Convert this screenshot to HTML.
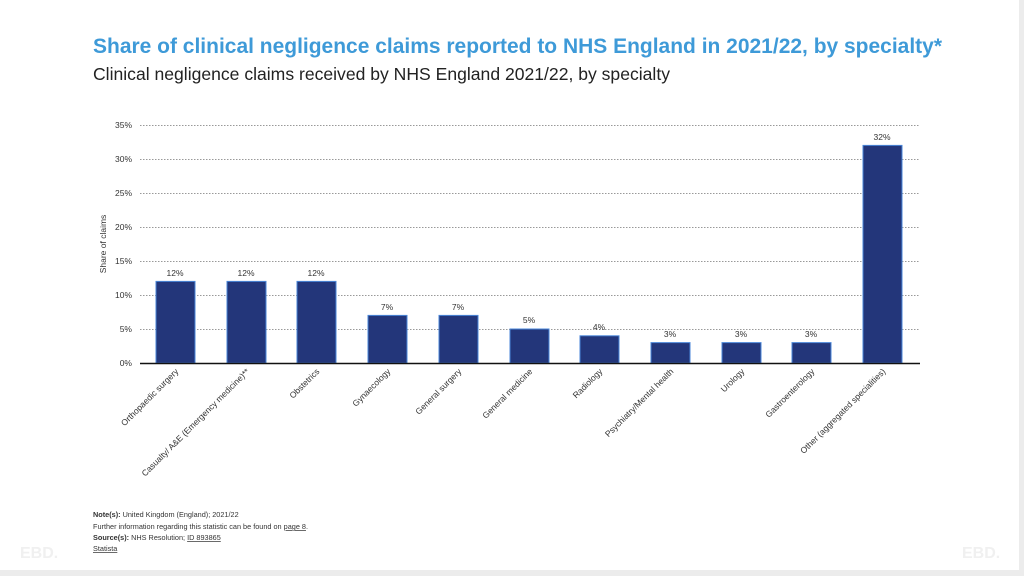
<!DOCTYPE html>
<html><head><meta charset="utf-8"><style>
body{margin:0;width:1024px;height:576px;background:#ececec;overflow:hidden;font-family:"Liberation Sans",sans-serif}
.slide{position:absolute;left:0;top:0;width:1019px;height:570px;background:#fff}
</style></head><body><div class="slide">
<svg width="1024" height="576" style="position:absolute;left:0;top:0" font-family="Liberation Sans, sans-serif">
<text x="93" y="53" font-size="20.8" font-weight="bold" fill="#3e9ad8" textLength="849" lengthAdjust="spacingAndGlyphs">Share of clinical negligence claims reported to NHS England in 2021/22, by specialty*</text>
<text x="93" y="80" font-size="17.5" fill="#222" textLength="577" lengthAdjust="spacingAndGlyphs">Clinical negligence claims received by NHS England 2021/22, by specialty</text>
<g stroke="#999" stroke-width="1" stroke-dasharray="1.5,1.5">
<line x1="140" x2="920" y1="125.5" y2="125.5"/><line x1="140" x2="920" y1="159.5" y2="159.5"/>
<line x1="140" x2="920" y1="193.5" y2="193.5"/><line x1="140" x2="920" y1="227.5" y2="227.5"/>
<line x1="140" x2="920" y1="261.5" y2="261.5"/><line x1="140" x2="920" y1="295.5" y2="295.5"/>
<line x1="140" x2="920" y1="329.5" y2="329.5"/></g>
<g font-size="8.5" fill="#333" text-anchor="end">
<text x="132" y="128">35%</text><text x="132" y="162">30%</text><text x="132" y="196">25%</text>
<text x="132" y="230">20%</text><text x="132" y="264">15%</text><text x="132" y="298">10%</text>
<text x="132" y="332">5%</text><text x="132" y="366">0%</text></g>
<text transform="translate(106,244) rotate(-90)" font-size="8.5" fill="#333" text-anchor="middle">Share of claims</text>
<g fill="#23367a" stroke="#4a86d8" stroke-width="1">
<rect x="156" y="281.4" width="39" height="81.6"/><rect x="227" y="281.4" width="39" height="81.6"/>
<rect x="297" y="281.4" width="39" height="81.6"/><rect x="368" y="315.4" width="39" height="47.6"/>
<rect x="439" y="315.4" width="39" height="47.6"/><rect x="510" y="329" width="39" height="34"/>
<rect x="580" y="335.8" width="39" height="27.2"/><rect x="651" y="342.6" width="39" height="20.4"/>
<rect x="722" y="342.6" width="39" height="20.4"/><rect x="792" y="342.6" width="39" height="20.4"/>
<rect x="863" y="145.4" width="39" height="217.6"/></g>
<line x1="140" x2="920" y1="363.5" y2="363.5" stroke="#111" stroke-width="1.5"/>
<g font-size="8.5" fill="#333" text-anchor="middle">
<text x="175" y="276">12%</text><text x="246" y="276">12%</text><text x="316" y="276">12%</text>
<text x="387" y="310">7%</text><text x="458" y="310">7%</text><text x="529" y="323">5%</text>
<text x="599" y="330">4%</text><text x="670" y="337">3%</text><text x="741" y="337">3%</text>
<text x="811" y="337">3%</text><text x="882" y="140">32%</text></g>
<g font-size="8.5" fill="#333" text-anchor="end">
<text transform="translate(179,372) rotate(-45)">Orthopaedic surgery</text>
<text transform="translate(250,372) rotate(-45)">Casualty/ A&amp;E (Emergency medicine)**</text>
<text transform="translate(320,372) rotate(-45)">Obstetrics</text>
<text transform="translate(391,372) rotate(-45)">Gynaecology</text>
<text transform="translate(462,372) rotate(-45)">General surgery</text>
<text transform="translate(533,372) rotate(-45)">General medicine</text>
<text transform="translate(603,372) rotate(-45)">Radiology</text>
<text transform="translate(674,372) rotate(-45)">Psychiatry/Mental health</text>
<text transform="translate(745,372) rotate(-45)">Urology</text>
<text transform="translate(815,372) rotate(-45)">Gastroenterology</text>
<text transform="translate(886,372) rotate(-45)">Other (aggregated specialities)</text></g>
<g font-size="7.3" fill="#333">
<text x="93" y="517"><tspan font-weight="bold">Note(s):</tspan> United Kingdom (England); 2021/22</text>
<text x="93" y="529">Further information regarding this statistic can be found on <tspan text-decoration="underline">page 8</tspan>.</text>
<text x="93" y="540"><tspan font-weight="bold">Source(s):</tspan> NHS Resolution; <tspan text-decoration="underline">ID 893865</tspan></text>
<text x="93" y="551" text-decoration="underline">Statista</text></g>
<text x="20" y="558" font-size="16" font-weight="bold" fill="#f0f0f0">EBD.</text>
<text x="962" y="558" font-size="16" font-weight="bold" fill="#f0f0f0">EBD.</text>
</svg></div></body></html>
